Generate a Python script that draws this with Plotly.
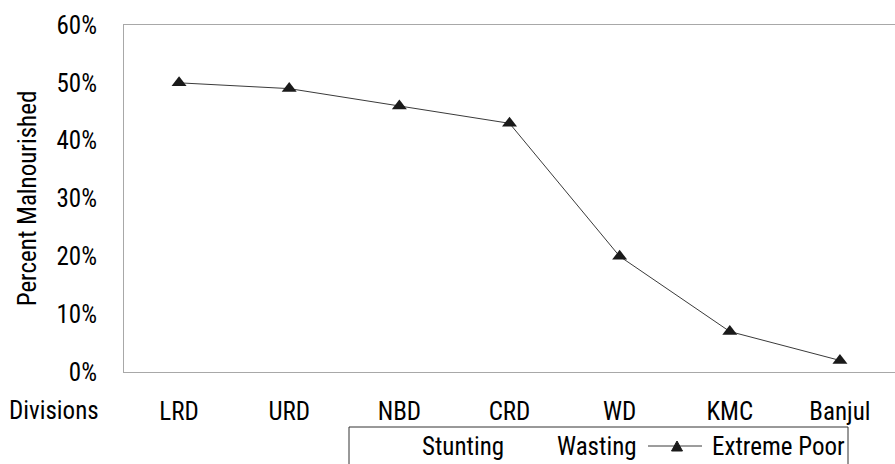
import plotly.graph_objects as go

divisions = ["LRD", "URD", "NBD", "CRD", "WD", "KMC", "Banjul"]
extreme_poor = [0.50, 0.49, 0.46, 0.43, 0.20, 0.07, 0.02]
y_ticks = [0, 0.1, 0.2, 0.3, 0.4, 0.5, 0.6]
legend_labels = ["Stunting", "Wasting", "Extreme Poor"]

FONT = "Liberation Sans Narrow, Arial Narrow, Roboto Condensed, Liberation Sans, sans-serif"
FS = 25
TXT = "#000000"
W, H = 895, 464
L, R, T, B = 124, 0, 25, 92
pw, ph = W - L - R, H - T - B

def px(x):
    return (x - L) / pw

def py(y):
    return (H - B - y) / ph

fig = go.Figure()
fig.add_trace(go.Scatter(
    x=divisions, y=extreme_poor, mode="lines+markers",
    line=dict(color="#3a3a3a", width=1),
    marker=dict(symbol="triangle-up", size=13, color="#1a1a1a"),
    showlegend=False, cliponaxis=False,
))

shapes = [
    dict(type="rect", xref="paper", yref="paper", x0=px(349), x1=px(848), y0=py(500), y1=py(427),
         line=dict(color="#333333", width=1), fillcolor="rgba(0,0,0,0)"),
    dict(type="line", xref="paper", yref="paper", x0=px(648), x1=px(702), y0=py(446), y1=py(446),
         line=dict(color="#3a3a3a", width=1)),
    dict(type="path", xref="paper", yref="paper",
         path=f"M {px(671.5)},{py(451)} L {px(682.5)},{py(451)} L {px(677)},{py(441)} Z",
         fillcolor="#1a1a1a", line=dict(color="#1a1a1a", width=1)),
]

annotations = [
    dict(text="Divisions", xref="paper", yref="paper", x=px(101), y=py(410), xanchor="right", yanchor="middle",
         showarrow=False, font=dict(family=FONT, size=FS, color=TXT)),
]
for lbl, xl in zip(legend_labels, [420, 555, 710]):
    annotations.append(dict(text=lbl, xref="paper", yref="paper", x=px(xl), y=py(446),
                            xanchor="left", yanchor="middle", showarrow=False,
                            font=dict(family=FONT, size=FS, color=TXT)))

fig.update_layout(
    width=W, height=H,
    margin=dict(l=L, r=R, t=T, b=B),
    paper_bgcolor="white", plot_bgcolor="white",
    font=dict(family=FONT, size=FS, color=TXT),
    shapes=shapes, annotations=annotations,
    showlegend=False,
)
fig.update_xaxes(
    type="category", showgrid=False, showline=True, mirror=True,
    linecolor="#a8a8a8", linewidth=1, ticks="", ticklabelstandoff=17,
    tickfont=dict(family=FONT, size=FS, color=TXT),
    range=[-0.5, 6.5], fixedrange=True,
)
fig.update_yaxes(
    range=[0, 0.6], tickvals=y_ticks, tickformat=".0%", showgrid=False,
    showline=True, linecolor="#a8a8a8", linewidth=1, ticks="", zeroline=False,
    ticklabelstandoff=21,
    tickfont=dict(family=FONT, size=FS, color=TXT),
    title=dict(text="Percent Malnourished", font=dict(family=FONT, size=FS, color=TXT), standoff=12),
)

fig.write_html("out.html")
